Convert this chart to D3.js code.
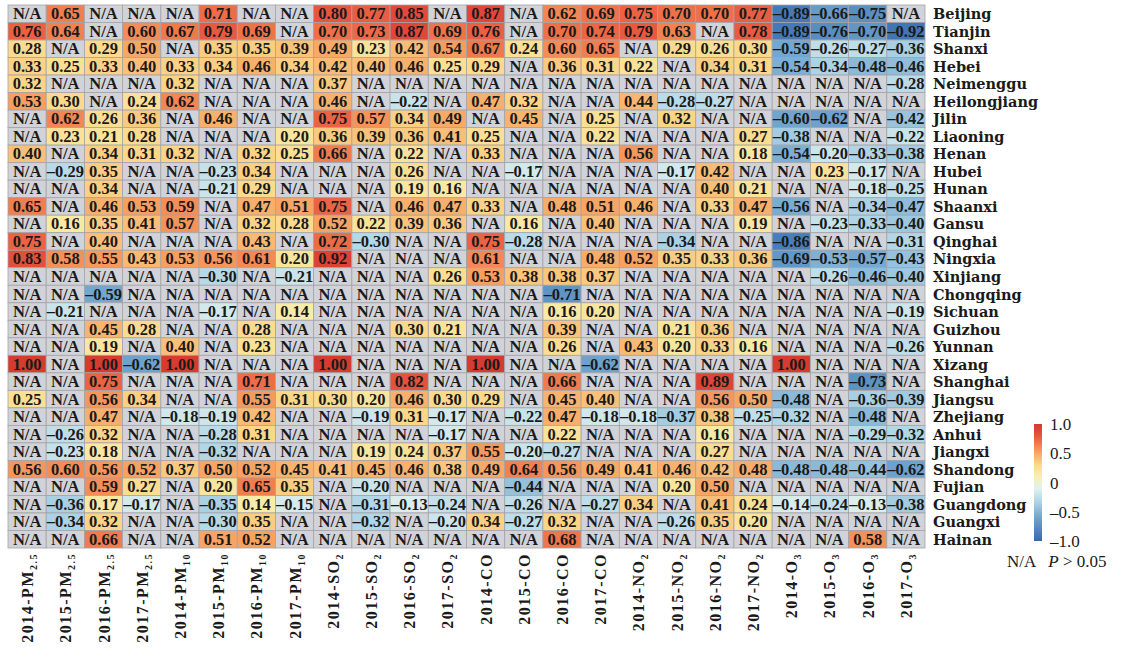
<!DOCTYPE html>
<html>
<head>
  <meta charset="utf-8">
  <title>correlation heatmap</title>
  <style>
    body { margin: 0; background: #fff; }
    text { font-family: "Liberation Serif", "Times New Roman", serif; }
  </style>
</head>
<body>
  <svg width="1125" height="648" class="chart"></svg>

  <script src="https://d3js.org/d3.v7.min.js"></script>
  <script type="text/javascript">

  // rows, top to bottom
  var provinces = ["Beijing", "Tianjin", "Shanxi", "Hebei", "Neimenggu", "Heilongjiang", "Jilin",
    "Liaoning", "Henan", "Hubei", "Hunan", "Shaanxi", "Gansu", "Qinghai", "Ningxia", "Xinjiang",
    "Chongqing", "Sichuan", "Guizhou", "Yunnan", "Xizang", "Shanghai", "Jiangsu", "Zhejiang",
    "Anhui", "Jiangxi", "Shandong", "Fujian", "Guangdong", "Guangxi", "Hainan"];

  var years = ["2014", "2015", "2016", "2017"];
  // pollutant name + subscript part
  var pollutants = [["PM", "2.5"], ["PM", "10"], ["SO", "2"], ["CO", ""], ["NO", "2"], ["O", "3"]];

  var colorTicks = [1.0, 0.5, 0, -0.5, -1.0];

  // null = N/A (P > 0.05); one row per province, 24 columns
  var N = null;
  var corr = [
    [N, 0.65, N, N, N, 0.71, N, N, 0.80, 0.77, 0.85, N, 0.87, N, 0.62, 0.69, 0.75, 0.70, 0.70, 0.77, -0.89, -0.66, -0.75, N],
    [0.76, 0.64, N, 0.60, 0.67, 0.79, 0.69, N, 0.70, 0.73, 0.87, 0.69, 0.76, N, 0.70, 0.74, 0.79, 0.63, N, 0.78, -0.89, -0.76, -0.70, -0.92],
    [0.28, N, 0.29, 0.50, N, 0.35, 0.35, 0.39, 0.49, 0.23, 0.42, 0.54, 0.67, 0.24, 0.60, 0.65, N, 0.29, 0.26, 0.30, -0.59, -0.26, -0.27, -0.36],
    [0.33, 0.25, 0.33, 0.40, 0.33, 0.34, 0.46, 0.34, 0.42, 0.40, 0.46, 0.25, 0.29, N, 0.36, 0.31, 0.22, N, 0.34, 0.31, -0.54, -0.34, -0.48, -0.46],
    [0.32, N, N, N, 0.32, N, N, N, 0.37, N, N, N, N, N, N, N, N, N, N, N, N, N, N, -0.28],
    [0.53, 0.30, N, 0.24, 0.62, N, N, N, 0.46, N, -0.22, N, 0.47, 0.32, N, N, 0.44, -0.28, -0.27, N, N, N, N, N],
    [N, 0.62, 0.26, 0.36, N, 0.46, N, N, 0.75, 0.57, 0.34, 0.49, N, 0.45, N, 0.25, N, 0.32, N, N, -0.60, -0.62, N, -0.42],
    [N, 0.23, 0.21, 0.28, N, N, N, 0.20, 0.36, 0.39, 0.36, 0.41, 0.25, N, N, 0.22, N, N, N, 0.27, -0.38, N, N, -0.22],
    [0.40, N, 0.34, 0.31, 0.32, N, 0.32, 0.25, 0.66, N, 0.22, N, 0.33, N, N, N, 0.56, N, N, 0.18, -0.54, -0.20, -0.33, -0.38],
    [N, -0.29, 0.35, N, N, -0.23, 0.34, N, N, N, 0.26, N, N, -0.17, N, N, N, -0.17, 0.42, N, N, 0.23, -0.17, N],
    [N, N, 0.34, N, N, -0.21, 0.29, N, N, N, 0.19, 0.16, N, N, N, N, N, N, 0.40, 0.21, N, N, -0.18, -0.25],
    [0.65, N, 0.46, 0.53, 0.59, N, 0.47, 0.51, 0.75, N, 0.46, 0.47, 0.33, N, 0.48, 0.51, 0.46, N, 0.33, 0.47, -0.56, N, -0.34, -0.47],
    [N, 0.16, 0.35, 0.41, 0.57, N, 0.32, 0.28, 0.52, 0.22, 0.39, 0.36, N, 0.16, N, 0.40, N, N, N, 0.19, N, -0.23, -0.33, -0.40],
    [0.75, N, 0.40, N, N, N, 0.43, N, 0.72, -0.30, N, N, 0.75, -0.28, N, N, N, -0.34, N, N, -0.86, N, N, -0.31],
    [0.83, 0.58, 0.55, 0.43, 0.53, 0.56, 0.61, 0.20, 0.92, N, N, N, 0.61, N, N, 0.48, 0.52, 0.35, 0.33, 0.36, -0.69, -0.53, -0.57, -0.43],
    [N, N, N, N, N, -0.30, N, -0.21, N, N, N, 0.26, 0.53, 0.38, 0.38, 0.37, N, N, N, N, N, -0.26, -0.46, -0.40],
    [N, N, -0.59, N, N, N, N, N, N, N, N, N, N, N, -0.71, N, N, N, N, N, N, N, N, N],
    [N, -0.21, N, N, N, -0.17, N, 0.14, N, N, N, N, N, N, 0.16, 0.20, N, N, N, N, N, N, N, -0.19],
    [N, N, 0.45, 0.28, N, N, 0.28, N, N, N, 0.30, 0.21, N, N, 0.39, N, N, 0.21, 0.36, N, N, N, N, N],
    [N, N, 0.19, N, 0.40, N, 0.23, N, N, N, N, N, N, N, 0.26, N, 0.43, 0.20, 0.33, 0.16, N, N, N, -0.26],
    [1.00, N, 1.00, -0.62, 1.00, N, N, N, 1.00, N, N, N, 1.00, N, N, -0.62, N, N, N, N, 1.00, N, N, N],
    [N, N, 0.75, N, N, N, 0.71, N, N, N, 0.82, N, N, N, 0.66, N, N, N, 0.89, N, N, N, -0.73, N],
    [0.25, N, 0.56, 0.34, N, N, 0.55, 0.31, 0.30, 0.20, 0.46, 0.30, 0.29, N, 0.45, 0.40, N, N, 0.56, 0.50, -0.48, N, -0.36, -0.39],
    [N, N, 0.47, N, -0.18, -0.19, 0.42, N, N, -0.19, 0.31, -0.17, N, -0.22, 0.47, -0.18, -0.18, -0.37, 0.38, -0.25, -0.32, N, -0.48, N],
    [N, -0.26, 0.32, N, N, -0.28, 0.31, N, N, N, N, -0.17, N, N, 0.22, N, N, N, 0.16, N, N, N, -0.29, -0.32],
    [N, -0.23, 0.18, N, N, -0.32, N, N, N, 0.19, 0.24, 0.37, 0.55, -0.20, -0.27, N, N, N, 0.27, N, N, N, N, N],
    [0.56, 0.60, 0.56, 0.52, 0.37, 0.50, 0.52, 0.45, 0.41, 0.45, 0.46, 0.38, 0.49, 0.64, 0.56, 0.49, 0.41, 0.46, 0.42, 0.48, -0.48, -0.48, -0.44, -0.62],
    [N, N, 0.59, 0.27, N, 0.20, 0.65, 0.35, N, -0.20, N, N, N, -0.44, N, N, N, 0.20, 0.50, N, N, N, N, N],
    [N, -0.36, 0.17, -0.17, N, -0.35, 0.14, -0.15, N, -0.31, -0.13, -0.24, N, -0.26, N, -0.27, 0.34, N, 0.41, 0.24, -0.14, -0.24, -0.13, -0.38],
    [N, -0.34, 0.32, N, N, -0.30, 0.35, N, N, -0.32, N, -0.20, 0.34, -0.27, 0.32, N, N, -0.26, 0.35, 0.20, N, N, N, N],
    [N, N, 0.66, N, N, 0.51, 0.52, N, N, N, N, N, N, N, 0.68, N, N, N, N, N, N, N, 0.58, N]
  ];

  var svg = d3.select(".chart");

  // column keys like "2014-PM2.5"
  var columns = [];
  pollutants.forEach(function(p) {
    years.forEach(function(y) {
      columns.push({key: y + "-" + p[0] + p[1], year: y, name: p[0], sub: p[1]});
    });
  });

  var x = d3.scaleBand().domain(columns.map(function(c) { return c.key; })).range([8, 925]);
  var y = d3.scaleBand().domain(provinces).range([5, 548]);

  // muted red-yellow-blue
  var color = d3.scaleLinear()
    .domain([-1, -0.6, -0.3, -0.1, 0.1, 0.3, 0.5, 0.7, 0.85, 1])
    .range(["#3669ad", "#6fa5cf", "#b6d9e8", "#e2f1ee", "#f8f0b0", "#fcd98c", "#f7a765", "#ee7049", "#e2493a", "#d63b2f"])
    .interpolate(d3.interpolateRgb)
    .clamp(true);
  var naFill = "#d2d3d8";

  var cells = [];
  corr.forEach(function(row, i) {
    row.forEach(function(v, j) {
      cells.push({prov: provinces[i], col: columns[j].key, v: v});
    });
  });

  function fmt(v) {
    var s = Math.abs(v).toFixed(2);
    return v < 0 ? "\u2013" + s : s;
  }

  var g = svg.append("g");

  g.selectAll("rect")
    .data(cells)
    .enter().append("rect")
    .attr("x", function(d) { return x(d.col); })
    .attr("y", function(d) { return y(d.prov); })
    .attr("width", x.bandwidth())
    .attr("height", y.bandwidth())
    .style("fill", function(d) { return d.v === null ? naFill : color(d.v); })
    .style("stroke", "#a3a3a8")
    .style("stroke-width", 0.8);

  g.selectAll("text.val")
    .data(cells)
    .enter().append("text")
    .attr("class", "val")
    .attr("x", function(d) { return x(d.col) + x.bandwidth() / 2; })
    .attr("y", function(d) { return y(d.prov) + y.bandwidth() / 2 + 5.5; })
    .attr("text-anchor", "middle")
    .style("font-size", "16.5px")
    .style("font-weight", "bold")
    .style("fill", "#1a1a1a")
    .text(function(d) { return d.v === null ? "N/A" : fmt(d.v); });

  // province labels on the right (wider serif, like the original)
  svg.selectAll("text.prov")
    .data(provinces)
    .enter().append("text")
    .attr("class", "prov")
    .attr("x", 933)
    .attr("y", function(d) { return y(d) + y.bandwidth() / 2 + 5.5; })
    .style("font-family", "'DejaVu Serif', serif")
    .style("font-size", "14.5px")
    .style("font-weight", "bold")
    .style("fill", "#1a1a1a")
    .text(function(d) { return d; });

  // column labels, rotated
  var xl = svg.selectAll("text.col")
    .data(columns)
    .enter().append("text")
    .attr("class", "col")
    .attr("transform", function(d) {
      return "translate(" + (x(d.key) + x.bandwidth() / 2 + 6) + ",553) rotate(-90)";
    })
    .attr("text-anchor", "end")
    .style("font-size", "16px")
    .style("font-weight", "bold")
    .style("letter-spacing", "1.5px")
    .style("fill", "#1a1a1a");
  xl.append("tspan").text(function(d) { return d.year + "-" + d.name; });
  xl.append("tspan")
    .attr("dy", 4)
    .style("font-size", "10px")
    .text(function(d) { return d.sub; });

  // colour bar
  var defs = svg.append("defs");
  var grad = defs.append("linearGradient").attr("id", "cbar")
    .attr("x1", 0).attr("y1", 1).attr("x2", 0).attr("y2", 0);
  d3.range(0, 1.0001, 0.05).forEach(function(t) {
    grad.append("stop").attr("offset", t).attr("stop-color", color(-1 + 2 * t));
  });

  var cy = d3.scaleLinear().domain([-1, 1]).range([541, 424]);
  svg.append("rect")
    .attr("x", 1034)
    .attr("y", cy(1))
    .attr("width", 8)
    .attr("height", cy(-1) - cy(1))
    .style("fill", "url(#cbar)");

  svg.selectAll("text.ctick")
    .data(colorTicks)
    .enter().append("text")
    .attr("class", "ctick")
    .attr("x", 1050)
    .attr("y", function(d) { return cy(d) + 6; })
    .style("font-size", "17px")
    .style("fill", "#1a1a1a")
    .text(function(d) { return d === 0 ? "0" : (d < 0 ? "\u2013" : "") + Math.abs(d).toFixed(1); });

  var na = svg.append("text")
    .attr("x", 1007)
    .attr("y", 567)
    .style("font-size", "17px")
    .style("fill", "#1a1a1a");
  na.append("tspan").text("N/A");
  na.append("tspan").attr("dx", 12).style("font-style", "italic").text("P");
  na.append("tspan").text(" > 0.05");

  </script>
</body>
</html>
